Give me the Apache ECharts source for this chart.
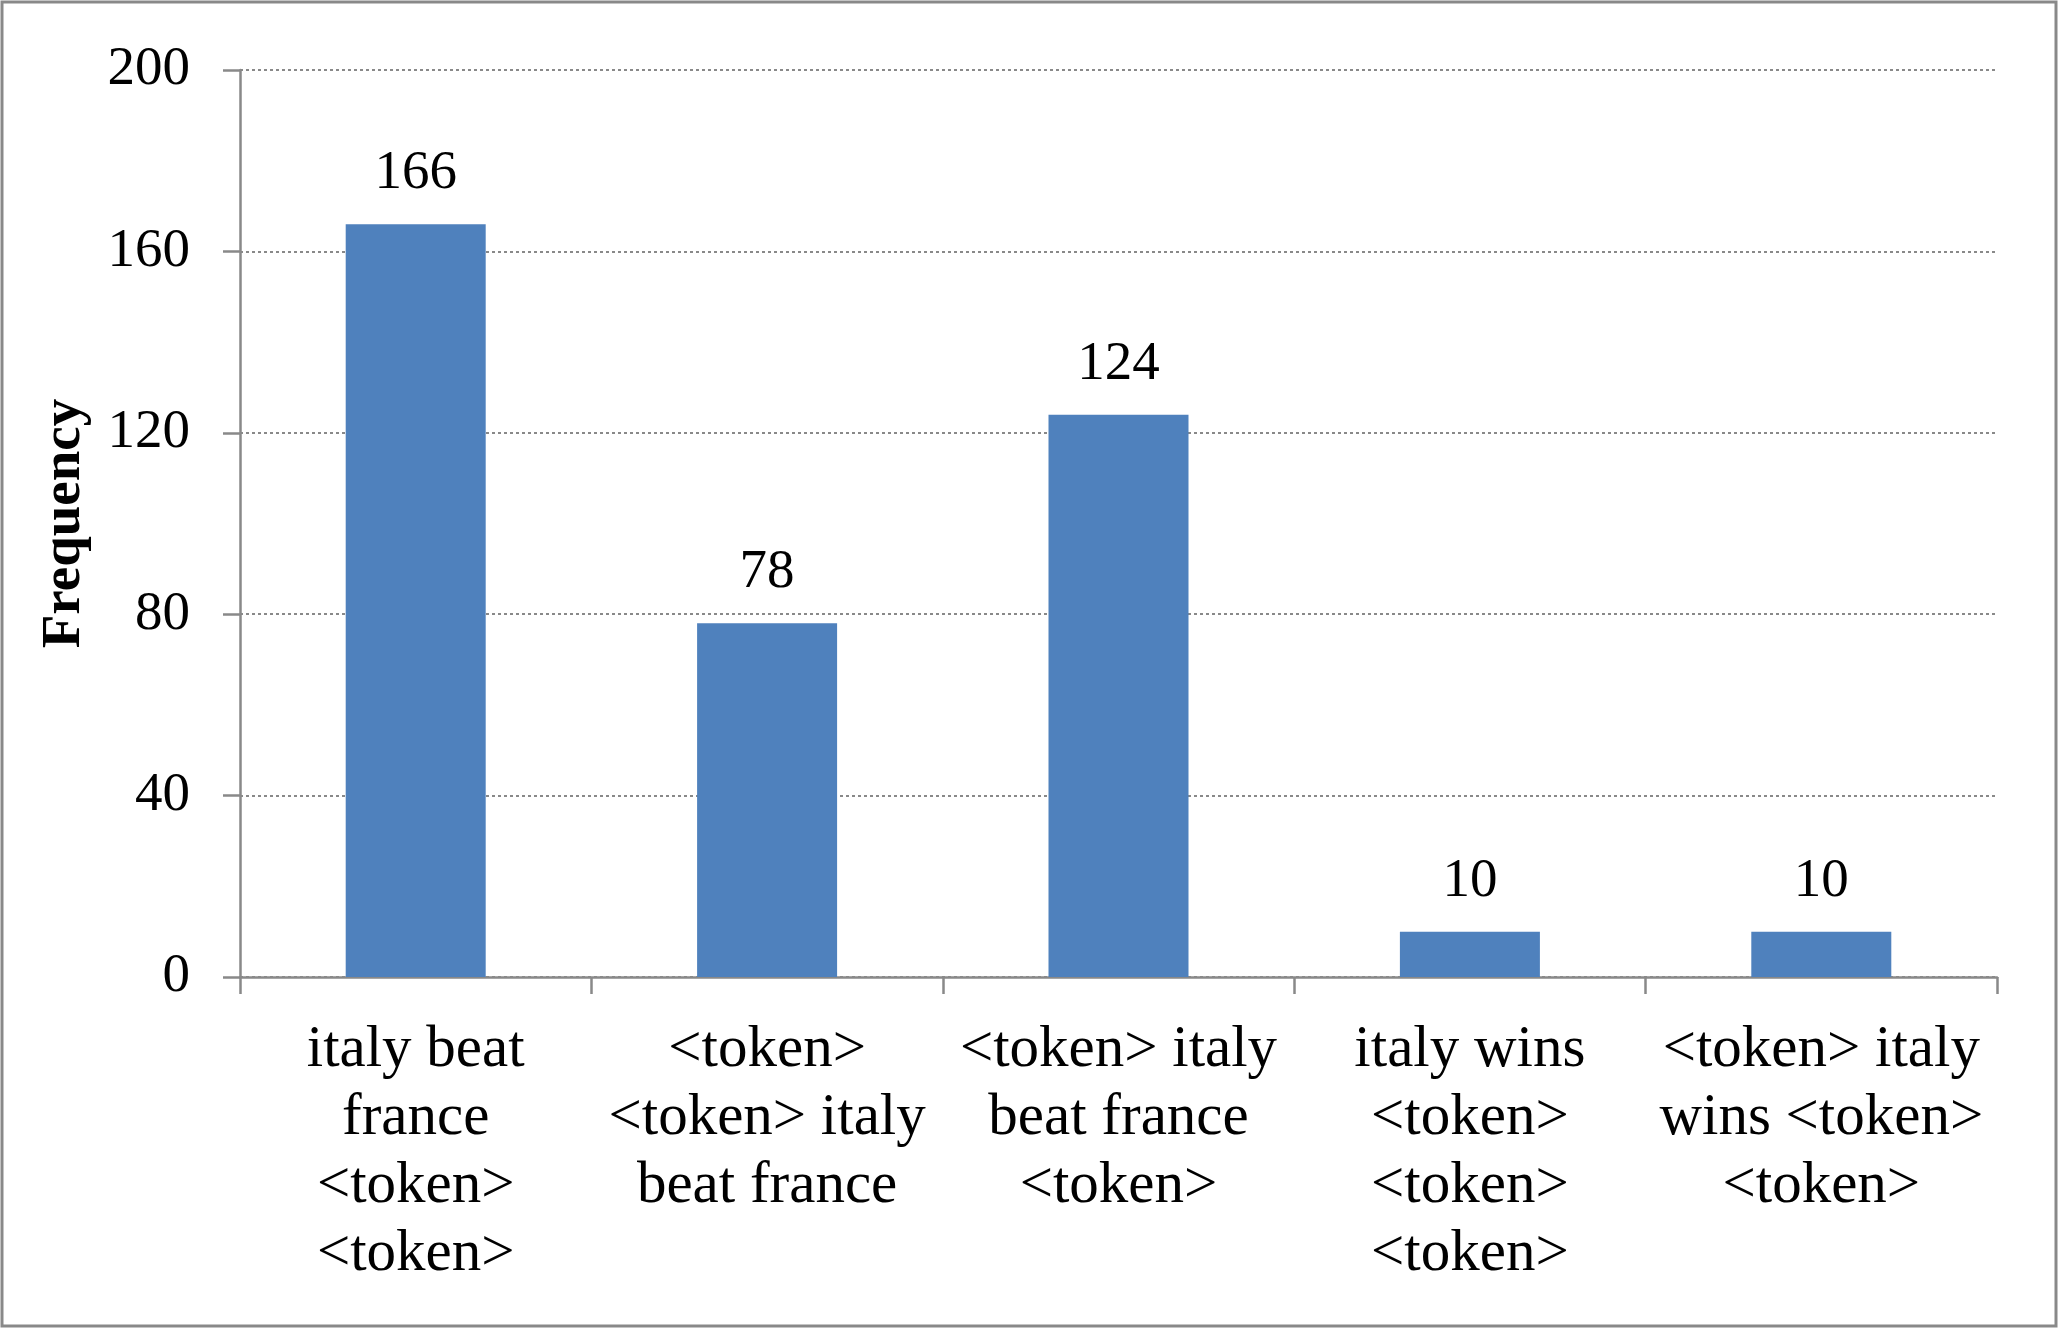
<!DOCTYPE html>
<html>
<head>
<meta charset="utf-8">
<script src="https://cdn.jsdelivr.net/npm/echarts@6/dist/echarts.min.js"></script>
<style>
  html, body { margin: 0; padding: 0; background: #fff; }
  #chart { width: 2059px; height: 1329px; }
</style>
</head>
<body>
<div id="chart"></div>
<script>
// phrase frequencies
var categories = [
  'italy beat\nfrance\n<token>\n<token>',
  '<token>\n<token> italy\nbeat france',
  '<token> italy\nbeat france\n<token>',
  'italy wins\n<token>\n<token>\n<token>',
  '<token> italy\nwins <token>\n<token>'
]
var frequency = [166, 78, 124, 10, 10]
var yTicks = { min: 0, max: 200, interval: 40 }

var font = 'Liberation Serif'
var grey = '#898989'

var chart = echarts.init(document.getElementById('chart'))

var option = {
  backgroundColor: '#fff',
  animation: false,
  graphic: [{
    type: 'rect',
    shape: { x: 2, y: 2, width: 2054, height: 1324 },
    style: { fill: 'none', stroke: grey, lineWidth: 3 }
  }],
  grid: { left: 240, right: 62, top: 70, bottom: 352 },
  xAxis: {
    type: 'category',
    data: categories,
    axisLine: { lineStyle: { color: grey, width: 2.5 } },
    axisTick: { show: true, length: 17, lineStyle: { color: grey, width: 2.5 } },
    axisLabel: {
      interval: 0,
      margin: 39,
      color: '#000',
      fontFamily: font,
      fontSize: 59,
      lineHeight: 68,
      align: 'center'
    }
  },
  yAxis: {
    type: 'value',
    min: yTicks.min,
    max: yTicks.max,
    interval: yTicks.interval,
    name: 'Frequency',
    nameLocation: 'middle',
    nameGap: 148,
    nameRotate: 90,
    nameTextStyle: { fontFamily: font, fontSize: 55, fontWeight: 'bold', color: '#000' },
    axisLine: { show: true, lineStyle: { color: grey, width: 2.5 } },
    axisTick: { show: true, length: 17, lineStyle: { color: grey, width: 2.5 } },
    axisLabel: { margin: 50, color: '#000', fontFamily: font, fontSize: 55 },
    splitLine: { show: true, lineStyle: { color: grey, width: 2, type: [3, 3] } }
  },
  series: [{
    type: 'bar',
    data: frequency,
    barWidth: 140,
    itemStyle: { color: '#4f81bd' },
    label: {
      show: true,
      position: 'top',
      distance: 23,
      color: '#000',
      fontFamily: font,
      fontSize: 55
    }
  }]
}

chart.setOption(option)
</script>
</body>
</html>
